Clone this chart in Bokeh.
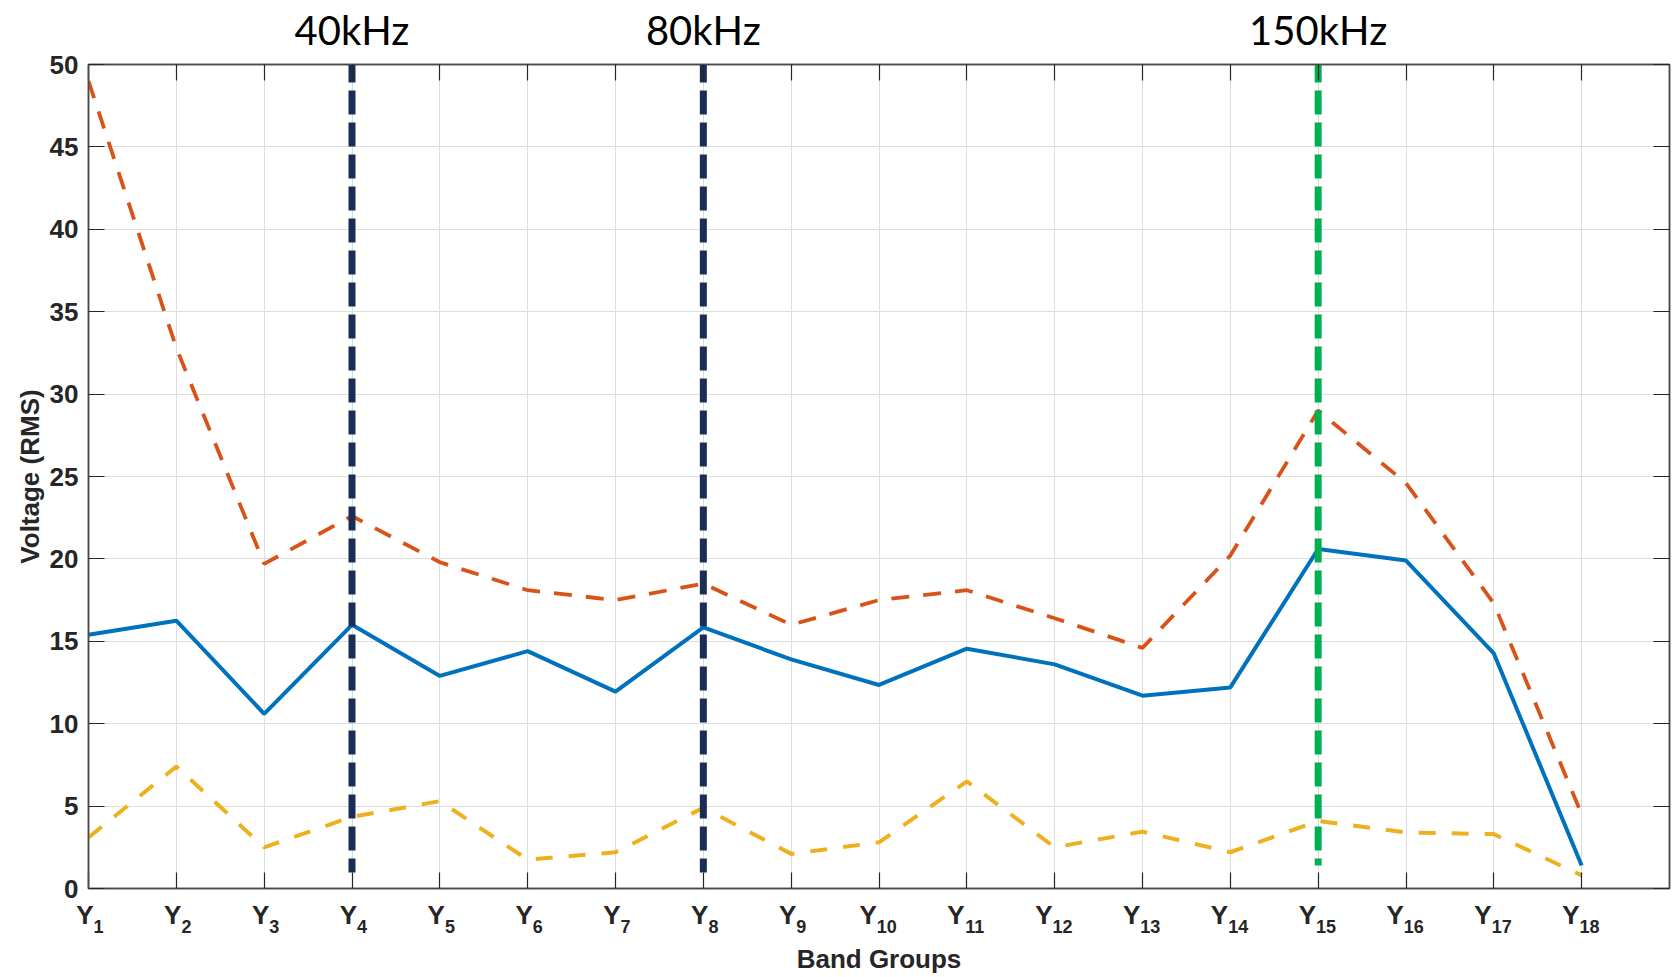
from bokeh.plotting import figure
from bokeh.models import Range1d, FixedTicker, LinearAxis
from bokeh.embed import file_html
from bokeh.resources import INLINE

# ---- data ----
groups = list(range(1, 19))
sub_labels = [str(i) for i in groups]
series_blue = [15.4, 16.25, 10.6, 16.0, 12.9, 14.4, 11.95, 15.85, 13.9, 12.35,
               14.55, 13.6, 11.7, 12.2, 20.6, 19.9, 14.26, 1.4]
series_orange = [49.0, 32.8, 19.7, 22.6, 19.8, 18.1, 17.5, 18.5, 16.0, 17.5,
                 18.1, 16.4, 14.6, 20.2, 29.0, 24.6, 17.3, 4.5]
series_yellow = [3.1, 7.4, 2.5, 4.35, 5.3, 1.75, 2.2, 4.9, 2.1, 2.8,
                 6.5, 2.5, 3.45, 2.2, 4.1, 3.4, 3.3, 0.8]
marker_x = [4, 8, 15]
marker_labels = ["40kHz", "80kHz", "150kHz"]
marker_bottom = [0.97, 0.97, 1.4]
marker_top = [50.36, 50.36, 50.36]
marker_colors = ["#192D55", "#192D55", "#00B050"]
y_ticks = list(range(0, 51, 5))

TXT = "#262626"
AX = "#4a4a4a"
W, H = 1675, 977
L, R, T, B = 88, 6, 64, 89
x0, x1 = 1, 19

p = figure(width=W, height=H, x_range=Range1d(x0, x1), y_range=Range1d(0, 50),
           output_backend="svg", toolbar_location=None,
           min_border_left=L, min_border_right=R, min_border_top=T, min_border_bottom=B,
           background_fill_color="white", border_fill_color="white")
p.outline_line_color = AX
p.outline_line_width = 1.5

px_per_unit = (W - L - R) / (x1 - x0)

# main axes (ticks only on x)
p.xaxis.ticker = FixedTicker(ticks=groups)
p.xaxis.major_label_overrides = {g: "" for g in groups}
p.xaxis.major_label_text_font_size = "0px"
p.xaxis.major_label_standoff = 0
p.yaxis.ticker = FixedTicker(ticks=y_ticks)
for ax in (p.xaxis[0], p.yaxis[0]):
    ax.major_tick_in = 16
    ax.major_tick_out = 0
    ax.minor_tick_in = 0
    ax.minor_tick_out = 0
    ax.axis_line_color = AX
    ax.axis_line_width = 1.5
    ax.major_tick_line_color = TXT
    ax.major_tick_line_width = 1.2
p.yaxis.major_label_text_font = "Liberation Sans"
p.yaxis.major_label_text_font_style = "bold"
p.yaxis.major_label_text_font_size = "26px"
p.yaxis.major_label_text_color = TXT
p.yaxis.major_label_standoff = 10
p.yaxis.axis_label = "Voltage (RMS)"
p.yaxis.axis_label_text_font = "Liberation Sans"
p.yaxis.axis_label_text_font_style = "bold"
p.yaxis.axis_label_text_font_size = "26px"
p.yaxis.axis_label_text_color = TXT
p.yaxis.axis_label_standoff = 2

# box ticks on top and right
for loc, tk in (("above", groups), ("right", y_ticks)):
    ax = LinearAxis(ticker=FixedTicker(ticks=tk), major_label_overrides={t: "" for t in tk},
                    major_label_text_font_size="0px", major_label_standoff=0,
                    major_tick_in=16, major_tick_out=0, minor_tick_in=0, minor_tick_out=0,
                    axis_line_color=AX, axis_line_width=1.5,
                    major_tick_line_color=TXT, major_tick_line_width=1.2)
    p.add_layout(ax, loc)

# frequency labels above the plot (as an extra top axis)
khz_axis = LinearAxis(ticker=FixedTicker(ticks=marker_x),
                      major_label_overrides=dict(zip(marker_x, marker_labels)),
                      major_label_text_font="Lato", major_label_text_font_size="40px",
                      major_label_text_color="black", major_label_standoff=11,
                      major_tick_in=0, major_tick_out=0, minor_tick_in=0, minor_tick_out=0,
                      axis_line_color=None, major_tick_line_color=None)
p.add_layout(khz_axis, "above")

# x tick labels: "Y" (padded with no-break spaces so it sits left of the tick)
# and the subscript number on a second axis just below/right of it
w_y = 0.667 * 26
w_nb = 0.278 * 26
n_pad = [1 if len(s) == 1 else 3 for s in sub_labels]
y_text = ["Y" + "\u00a0" * n for n in n_pad]
pos_sub = [g + (-n * w_nb / 2 + w_y / 2 + 0.556 * 18 * len(s) / 2) / px_per_unit
           for g, n, s in zip(groups, n_pad, sub_labels)]
ax_Y = LinearAxis(ticker=FixedTicker(ticks=groups),
                  major_label_overrides=dict(zip(groups, y_text)),
                  major_label_text_font="Liberation Sans", major_label_text_font_style="bold",
                  major_label_text_font_size="26px", major_label_text_color=TXT,
                  major_label_standoff=11, major_tick_in=0, major_tick_out=0,
                  minor_tick_in=0, minor_tick_out=0,
                  axis_line_color=None, major_tick_line_color=None)
ax_sub = LinearAxis(ticker=FixedTicker(ticks=pos_sub),
                    major_label_overrides=dict(zip(pos_sub, sub_labels)),
                    major_label_text_font="Liberation Sans", major_label_text_font_style="bold",
                    major_label_text_font_size="18px", major_label_text_color=TXT,
                    major_label_standoff=-13, major_tick_in=0, major_tick_out=0,
                    minor_tick_in=0, minor_tick_out=0,
                    axis_line_color=None, major_tick_line_color=None,
                    axis_label="Band Groups", axis_label_text_font="Liberation Sans",
                    axis_label_text_font_style="bold", axis_label_text_font_size="26px",
                    axis_label_text_color=TXT, axis_label_standoff=8)
p.add_layout(ax_Y, "below")
p.add_layout(ax_sub, "below")

p.xgrid.grid_line_color = "#dedede"
p.ygrid.grid_line_color = "#dedede"

# series
p.line(groups, series_yellow, line_color="#EDB120", line_width=4, line_dash="17 16")
p.line(groups, series_orange, line_color="#D95319", line_width=3.8, line_dash="18 14")
p.line(groups, series_blue, line_color="#0072BD", line_width=4)

# marker lines (drawn from top down so dash phase starts at top)
p.segment(x0=marker_x, y0=marker_top, x1=marker_x, y1=marker_bottom,
          line_color=marker_colors, line_width=7, line_dash="24 8")

open("out.html", "w").write(file_html(p, INLINE))
